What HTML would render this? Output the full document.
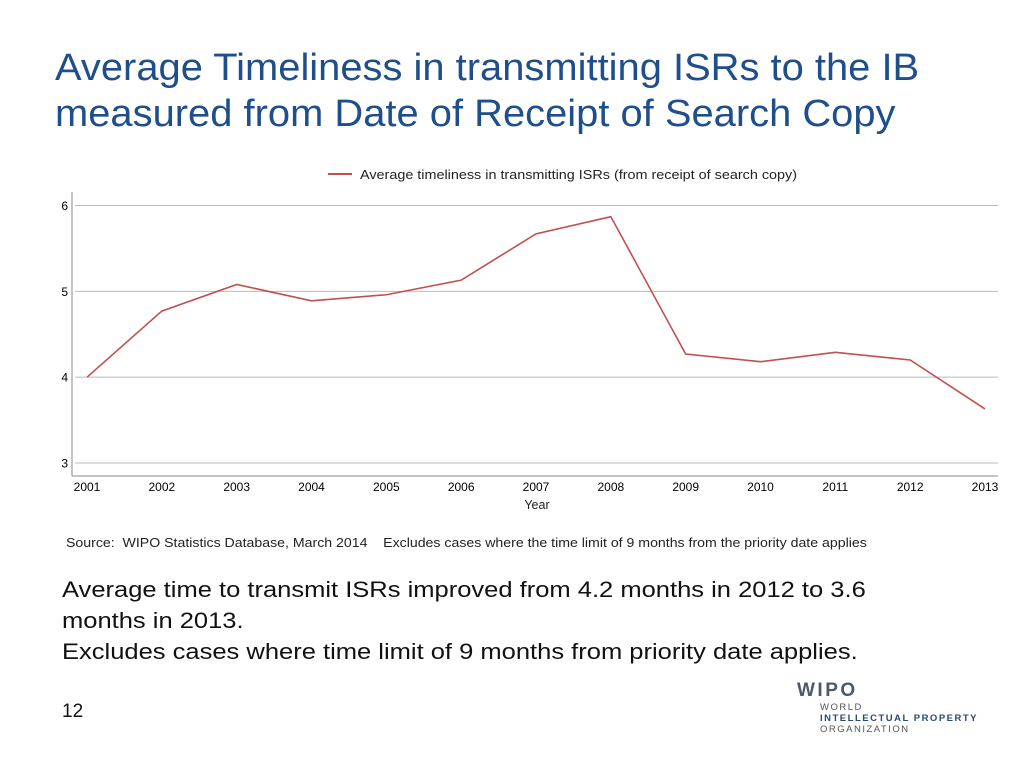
<!DOCTYPE html>
<html><head><meta charset="utf-8"><style>
body{margin:0;width:1024px;height:768px;background:#fff;font-family:"Liberation Sans",Arial,sans-serif;position:relative;overflow:hidden}
.t{position:absolute;white-space:nowrap;transform-origin:0 0}
</style></head><body>
<div class="t" style="left:55px;top:45px;font-size:38px;line-height:46px;color:#1f4e8c;transform:scaleX(1.05)">Average Timeliness in transmitting ISRs to the IB<br>measured from Date of Receipt of Search Copy</div>
<svg width="1024" height="560" style="position:absolute;left:0;top:0" id="chart">
<line x1="328" y1="174" x2="352" y2="174" stroke="#c0504d" stroke-width="2"/>
<text x="360" y="179" font-size="12.5" fill="#222" textLength="437" lengthAdjust="spacingAndGlyphs">Average timeliness in transmitting ISRs (from receipt of search copy)</text>
<g id="grid"></g>
<line x1="72" y1="192" x2="72" y2="476" stroke="#888"/>
<line x1="72" y1="476" x2="998" y2="476" stroke="#888"/>
<g id="xt"></g>
<text x="537" y="509" font-size="12.5" text-anchor="middle" fill="#222">Year</text>
<polyline id="line" fill="none" stroke="#c0504d" stroke-width="1.6"/>
</svg>
<div class="t" style="left:66px;top:536px;font-size:12.5px;color:#222;transform:scaleX(1.13)">Source:&nbsp; WIPO Statistics Database, March 2014&nbsp;&nbsp;&nbsp;&nbsp;Excludes cases where the time limit of 9 months from the priority date applies</div>
<div class="t" style="left:62px;top:574px;font-size:22px;line-height:31px;color:#111;transform:scaleX(1.16)">Average time to transmit ISRs improved from 4.2 months in 2012 to 3.6<br>months in 2013.<br>Excludes cases where time limit of 9 months from priority date applies.</div>
<div class="t" style="left:62px;top:701px;font-size:19px;color:#111">12</div>
<div style="position:absolute;left:797px;top:680px;color:#555">
<div style="font-size:19px;font-weight:bold;letter-spacing:2.5px;color:#4a5a6a">WIPO</div>
<div style="margin-left:23px;font-size:9.5px;line-height:11px;letter-spacing:1.5px">WORLD<br><b style="color:#2a4a70">INTELLECTUAL PROPERTY</b><br>ORGANIZATION</div>
</div>
<script>
const years=["2001","2002","2003","2004","2005","2006","2007","2008","2009","2010","2011","2012","2013"];
const values=[4.0,4.77,5.08,4.89,4.96,5.13,5.67,5.87,4.27,4.18,4.29,4.2,3.63];
const yTicks=[3,4,5,6];
const ns="http://www.w3.org/2000/svg";
const xs=i=>87+i*(985-87)/(years.length-1);
const ys=v=>463-(v-3)*(463-205.5)/3;
const grid=document.getElementById('grid');
yTicks.forEach(t=>{
 const l=document.createElementNS(ns,'line');
 
 
 l.setAttribute('x1',75);l.setAttribute('x2',998);l.setAttribute('y1',ys(t));l.setAttribute('y2',ys(t));l.setAttribute('stroke','#bbb');grid.appendChild(l);
 const tx=document.createElementNS(ns,'text');
 
 
 tx.setAttribute('x',68);tx.setAttribute('y',ys(t)+4.5);tx.setAttribute('text-anchor','end');tx.setAttribute('font-size','12');tx.textContent=t;grid.appendChild(tx);
});
const xt=document.getElementById('xt');
years.forEach((y,i)=>{
 const tx=document.createElementNS(ns,'text');
 
 
 tx.setAttribute('x',xs(i));tx.setAttribute('y',491);tx.setAttribute('text-anchor','middle');tx.setAttribute('font-size','12');tx.textContent=y;xt.appendChild(tx);
});
document.getElementById('line').setAttribute('points',values.map((v,i)=>xs(i)+','+ys(v)).join(' '));
</script>
</body></html>
